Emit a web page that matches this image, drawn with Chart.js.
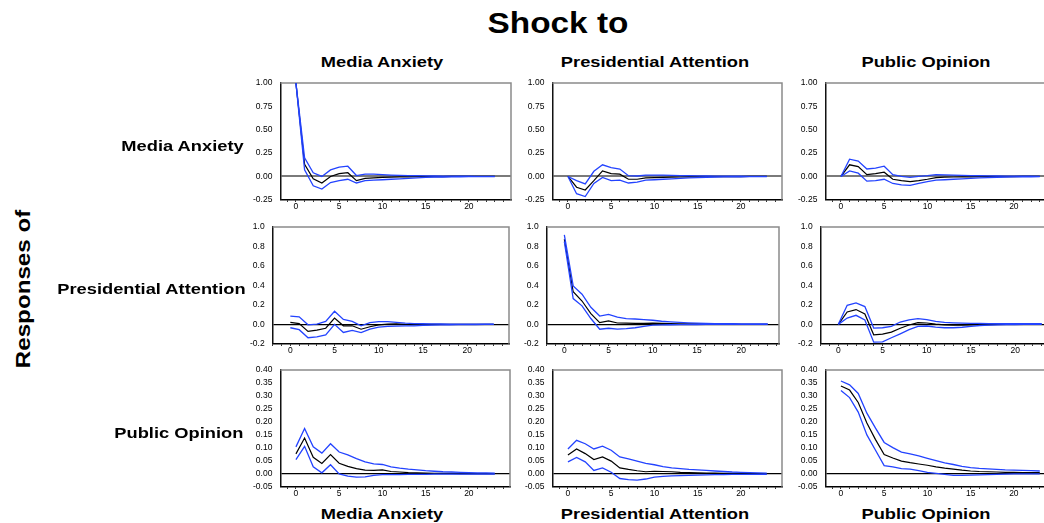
<!DOCTYPE html>
<html>
<head>
<meta charset="utf-8">
<script src="https://cdn.jsdelivr.net/npm/chart.js@4.4.1/dist/chart.umd.min.js"></script>
<style>
  html, body { margin: 0; padding: 0; background: #fff; overflow: hidden; }
  #wrap { position: relative; width: 1044px; height: 523px; overflow: hidden;
          font-family: "Liberation Sans", Arial, sans-serif; color: #000; }
  .lbl { position: absolute; font-weight: bold; white-space: nowrap; line-height: 1; }
  canvas { position: absolute; }
</style>
</head>
<body>
<div id="wrap"></div>
<script>
// ---- data ----
const periods = [0, 1, 2, 3, 4, 5, 6, 7, 8, 9, 10, 11, 12, 13, 14, 15, 16, 17, 18, 19, 20, 21, 22, 23]
const varNames = ['Media Anxiety', 'Presidential Attention', 'Public Opinion']

// y axis settings per row (response variable)
const yMins = [-0.25, -0.2, -0.05]
const yMaxs = [1.0, 1.0, 0.40]
const ySteps = [0.25, 0.2, 0.05]
const yDecimals = [2, 1, 2]

// naming: <response>_<shock>_<mid|hi|lo>
const ma_ma_mid = [1.0, 0.13, -0.025, -0.07, 0.0, 0.03, 0.04, -0.045, -0.02, -0.015, -0.01, -0.007, -0.005, -0.004, -0.003, -0.002, -0.001, -0.001, 0, 0, 0, 0, 0, 0]
const ma_ma_hi = [1.0, 0.2, 0.04, 0.0, 0.07, 0.1, 0.11, 0.01, 0.025, 0.025, 0.02, 0.015, 0.012, 0.01, 0.008, 0.006, 0.005, 0.004, 0.003, 0.002, 0.002, 0.001, 0.001, 0.001]
const ma_ma_lo = [1.0, 0.07, -0.1, -0.135, -0.065, -0.045, -0.03, -0.07, -0.045, -0.04, -0.035, -0.03, -0.025, -0.02, -0.015, -0.01, -0.008, -0.006, -0.004, -0.003, -0.002, -0.001, -0.001, -0.001]

const ma_pa_mid = [0, -0.115, -0.145, -0.045, 0.06, 0.03, 0.025, -0.03, -0.03, -0.015, -0.012, -0.01, -0.008, -0.006, -0.005, -0.004, -0.003, -0.002, -0.002, -0.001, -0.001, 0, 0, 0]
const ma_pa_hi = [0, -0.045, -0.08, 0.055, 0.125, 0.095, 0.08, 0.008, 0.005, 0.015, 0.015, 0.015, 0.012, 0.01, 0.008, 0.006, 0.005, 0.004, 0.003, 0.002, 0.002, 0.001, 0.001, 0.001]
const ma_pa_lo = [0, -0.185, -0.215, -0.075, -0.01, -0.045, -0.04, -0.07, -0.06, -0.04, -0.035, -0.03, -0.025, -0.02, -0.016, -0.012, -0.009, -0.007, -0.005, -0.004, -0.003, -0.002, -0.001, -0.001]

const ma_po_mid = [0, 0.125, 0.105, 0.02, 0.03, 0.045, -0.03, -0.045, -0.055, -0.045, -0.03, -0.012, -0.008, -0.006, -0.005, -0.004, -0.003, -0.002, -0.002, -0.001, -0.001, 0, 0, 0]
const ma_po_hi = [0, 0.185, 0.165, 0.08, 0.09, 0.11, 0.02, 0.0, -0.01, 0.0, 0.008, 0.02, 0.018, 0.015, 0.012, 0.01, 0.008, 0.006, 0.005, 0.004, 0.003, 0.002, 0.002, 0.001]
const ma_po_lo = [0, 0.06, 0.035, -0.05, -0.045, -0.03, -0.075, -0.09, -0.095, -0.075, -0.055, -0.04, -0.035, -0.03, -0.025, -0.02, -0.015, -0.012, -0.009, -0.007, -0.005, -0.004, -0.003, -0.002]

const pa_ma_mid = [0.02, 0.007, -0.072, -0.06, -0.04, 0.065, -0.015, -0.015, -0.05, -0.025, -0.005, 0.003, 0.005, 0.0, -0.002, -0.002, -0.001, -0.001, 0, 0, 0, 0, 0, 0]
const pa_ma_hi = [0.085, 0.077, -0.005, 0.003, 0.03, 0.135, 0.05, 0.03, -0.015, 0.017, 0.027, 0.028, 0.02, 0.012, 0.008, 0.006, 0.005, 0.004, 0.003, 0.002, 0.002, 0.001, 0.001, 0.001]
const pa_ma_lo = [-0.035, -0.055, -0.138, -0.128, -0.108, 0.0, -0.083, -0.062, -0.085, -0.05, -0.028, -0.02, -0.018, -0.015, -0.015, -0.01, -0.008, -0.006, -0.004, -0.003, -0.002, -0.002, -0.001, -0.001]

const pa_pa_mid = [0.875, 0.335, 0.24, 0.11, 0.018, 0.035, 0.014, 0.012, 0.01, 0.01, 0.012, 0.01, 0.008, 0.006, 0.005, 0.004, 0.003, 0.003, 0.002, 0.002, 0.001, 0.001, 0.001, 0.001]
const pa_pa_hi = [0.92, 0.395, 0.31, 0.175, 0.085, 0.103, 0.075, 0.058, 0.055, 0.048, 0.042, 0.032, 0.025, 0.02, 0.016, 0.012, 0.01, 0.008, 0.007, 0.006, 0.005, 0.005, 0.005, 0.005]
const pa_pa_lo = [0.85, 0.265, 0.19, 0.06, -0.05, -0.04, -0.05, -0.045, -0.035, -0.02, -0.007, -0.005, -0.004, -0.003, -0.002, -0.002, -0.001, -0.001, 0, 0, 0, 0, 0, 0]

const pa_po_mid = [0, 0.128, 0.152, 0.107, -0.107, -0.1, -0.08, -0.04, -0.007, 0.018, 0.014, 0.003, -0.005, -0.008, -0.008, -0.005, -0.003, -0.002, -0.001, -0.001, 0, 0, 0, 0]
const pa_po_hi = [0, 0.196, 0.22, 0.183, -0.038, -0.035, -0.02, 0.024, 0.045, 0.058, 0.048, 0.03, 0.02, 0.015, 0.012, 0.01, 0.009, 0.008, 0.008, 0.008, 0.008, 0.008, 0.008, 0.008]
const pa_po_lo = [0, 0.065, 0.093, 0.045, -0.183, -0.18, -0.138, -0.097, -0.055, -0.02, -0.017, -0.028, -0.035, -0.035, -0.03, -0.02, -0.012, -0.008, -0.005, -0.003, -0.002, -0.001, -0.001, 0]

const po_ma_mid = [0.077, 0.138, 0.064, 0.04, 0.074, 0.041, 0.029, 0.02, 0.014, 0.013, 0.015, 0.009, 0.007, 0.005, 0.004, 0.003, 0.002, 0.002, 0.002, 0.001, 0.001, 0.001, 0.001, 0.001]
const po_ma_hi = [0.104, 0.175, 0.104, 0.08, 0.116, 0.084, 0.073, 0.059, 0.046, 0.038, 0.036, 0.027, 0.022, 0.018, 0.015, 0.012, 0.01, 0.008, 0.007, 0.006, 0.005, 0.004, 0.004, 0.003]
const po_ma_lo = [0.055, 0.106, 0.027, 0.004, 0.035, 0.0, -0.009, -0.013, -0.012, -0.006, -0.003, -0.003, -0.003, -0.002, -0.002, -0.002, -0.001, -0.001, -0.001, -0.001, -0.001, -0.001, -0.001, -0.001]

const po_pa_mid = [0.073, 0.096, 0.078, 0.055, 0.065, 0.049, 0.023, 0.017, 0.012, 0.008, 0.01, 0.009, 0.008, 0.006, 0.005, 0.004, 0.003, 0.003, 0.002, 0.002, 0.002, 0.001, 0.001, 0.001]
const po_pa_hi = [0.096, 0.129, 0.116, 0.096, 0.107, 0.091, 0.065, 0.058, 0.049, 0.04, 0.035, 0.028, 0.023, 0.02, 0.017, 0.015, 0.013, 0.011, 0.009, 0.007, 0.006, 0.005, 0.004, 0.003]
const po_pa_lo = [0.046, 0.063, 0.046, 0.013, 0.023, 0.006, -0.018, -0.022, -0.024, -0.02, -0.013, -0.01, -0.008, -0.007, -0.006, -0.005, -0.004, -0.003, -0.003, -0.002, -0.002, -0.002, -0.002, -0.002]

const po_po_mid = [0.339, 0.323, 0.275, 0.196, 0.132, 0.074, 0.061, 0.049, 0.043, 0.038, 0.033, 0.027, 0.022, 0.018, 0.014, 0.011, 0.009, 0.008, 0.007, 0.006, 0.006, 0.005, 0.005, 0.005]
const po_po_hi = [0.358, 0.343, 0.31, 0.234, 0.176, 0.121, 0.101, 0.084, 0.077, 0.069, 0.06, 0.051, 0.042, 0.036, 0.029, 0.024, 0.021, 0.019, 0.017, 0.015, 0.014, 0.013, 0.012, 0.011]
const po_po_lo = [0.321, 0.294, 0.238, 0.15, 0.091, 0.032, 0.027, 0.02, 0.018, 0.012, 0.006, 0.002, -0.002, -0.006, -0.006, -0.005, -0.004, -0.003, -0.002, -0.001, 0, 0, 0, 0]

const grid = [
  [[ma_ma_mid, ma_ma_hi, ma_ma_lo], [ma_pa_mid, ma_pa_hi, ma_pa_lo], [ma_po_mid, ma_po_hi, ma_po_lo]],
  [[pa_ma_mid, pa_ma_hi, pa_ma_lo], [pa_pa_mid, pa_pa_hi, pa_pa_lo], [pa_po_mid, pa_po_hi, pa_po_lo]],
  [[po_ma_mid, po_ma_hi, po_ma_lo], [po_pa_mid, po_pa_hi, po_pa_lo], [po_po_mid, po_po_hi, po_po_lo]],
]

// ---- layout (plot boxes in page pixels) ----
const rowTops = [83, 227, 370]
const rowHeights = [117, 117, 117]
const colLefts = [[280, 552, 825], [273, 547, 821], [280, 552, 825]]
const colWidths = [[231, 230, 232], [236, 232, 236], [230, 230, 232]]
const xMins = [-1.8, -2.0, -1.8]
const pxPerPeriod = [8.66, 8.83, 8.66]
const zeroColors = ['#7a7a7a', '#000', '#000']
const zeroWidths = [2, 1.2, 1.2]

const tickFont = { family: '"Liberation Sans", Arial, sans-serif', size: 8.5 }

const wrap = document.getElementById('wrap')

function addLabel(text, size, x, baseline, align, stretch) {
  const el = document.createElement('div')
  el.className = 'lbl'
  el.textContent = text
  el.style.fontSize = size + 'px'
  el.style.top = (baseline - 0.8465 * size) + 'px'
  if (align === 'center') {
    el.style.left = x + 'px'
    el.style.transform = `translateX(-50%) scaleX(${stretch})`
  } else {
    el.style.right = (1044 - x) + 'px'
    el.style.transformOrigin = 'right center'
    el.style.transform = `scaleX(${stretch})`
  }
  wrap.appendChild(el)
}

// Top / right frame lines in gray
const frameLines = {
  id: 'frameLines',
  beforeDatasetsDraw(chart) {
    const { ctx, chartArea: { left, right, top, bottom } } = chart
    ctx.save()
    ctx.strokeStyle = '#8a8a8a'
    ctx.lineWidth = 1.5
    ctx.beginPath()
    ctx.moveTo(left, top)
    ctx.lineTo(right, top)
    ctx.lineTo(right, bottom)
    ctx.stroke()
    ctx.restore()
  },
}

function toPoints(vals) {
  return periods.map((p, i) => ({ x: p, y: vals[i] }))
}

function fmtTick(v, dec) {
  const s = v.toFixed(dec)
  return Number(s) === 0 ? (0).toFixed(dec) : s
}

function panelConfig(r, c) {
  const [mid, hi, lo] = grid[r][c]
  const xMin = xMins[r]
  const xMax = xMin + colWidths[r][c] / pxPerPeriod[r]
  const blue = '#2343ff'
  return {
    type: 'line',
    data: {
      datasets: [
        { label: 'upper', data: toPoints(hi), borderColor: blue, borderWidth: 1.3, pointRadius: 0, tension: 0, order: 0 },
        { label: 'lower', data: toPoints(lo), borderColor: blue, borderWidth: 1.3, pointRadius: 0, tension: 0, order: 0 },
        { label: 'response', data: toPoints(mid), borderColor: '#000', borderWidth: 1.2, pointRadius: 0, tension: 0, order: 1 },
      ],
    },
    options: {
      responsive: false,
      maintainAspectRatio: false,
      animation: false,
      devicePixelRatio: 1,
      layout: { padding: 2 },
      plugins: { legend: { display: false }, tooltip: { enabled: false } },
      scales: {
        x: {
          type: 'linear',
          min: xMin,
          max: xMax,
          afterBuildTicks: (s) => {
            const ticks = []
            for (let v = Math.ceil(xMin); v <= Math.floor(xMax); v++) ticks.push({ value: v })
            s.ticks = ticks
          },
          ticks: {
            autoSkip: false,
            maxRotation: 0,
            padding: 0,
            color: '#000',
            font: tickFont,
            callback: (v) => (v >= 0 && v % 5 === 0 ? String(v) : ''),
          },
          grid: { drawOnChartArea: false, drawTicks: true, tickLength: 2, tickColor: '#000' },
          border: { color: '#000', width: 1.5 },
        },
        y: {
          min: yMins[r],
          max: yMaxs[r],
          ticks: {
            stepSize: ySteps[r],
            autoSkip: false,
            padding: 8,
            color: '#000',
            font: tickFont,
            callback: (v) => fmtTick(v, yDecimals[r]),
          },
          grid: {
            drawTicks: false,
            color: (ctx) => (Math.abs(ctx.tick.value) < 1e-9 ? zeroColors[r] : 'rgba(0,0,0,0)'),
            lineWidth: (ctx) => (Math.abs(ctx.tick.value) < 1e-9 ? zeroWidths[r] : 0),
          },
          border: { color: '#111', width: 1.5 },
        },
      },
    },
    plugins: [frameLines],
  }
}

function makePanel(r, c) {
  const w = colWidths[r][c]
  const h = rowHeights[r]
  const canvas = document.createElement('canvas')
  wrap.appendChild(canvas)
  canvas.width = w + 60
  canvas.height = h + 40

  // first pass: measure how much room the axes take, then size the canvas so
  // the plot area lands exactly on the reference box
  let chart = new Chart(canvas, panelConfig(r, c))
  let ca = chart.chartArea
  const newW = canvas.width + (w - (ca.right - ca.left))
  const newH = canvas.height + (h - (ca.bottom - ca.top))
  chart.destroy()
  canvas.width = Math.round(newW)
  canvas.height = Math.round(newH)
  canvas.style.width = canvas.width + 'px'
  canvas.style.height = canvas.height + 'px'
  chart = new Chart(canvas, panelConfig(r, c))
  ca = chart.chartArea
  canvas.style.left = (colLefts[r][c] - ca.left) + 'px'
  canvas.style.top = (rowTops[r] - ca.top) + 'px'
}

for (let r = 0; r < 3; r++) {
  for (let c = 0; c < 3; c++) makePanel(r, c)
}

// ---- titles ----
const colCenters = [382, 655, 926]
const rowLabelRight = [244, 246, 243]
const rowLabelBaselines = [151, 294, 438]

addLabel('Shock to', 29, 557.5, 34, 'center', 1.15)
varNames.forEach((name, i) => {
  addLabel(name, 15.5, colCenters[i], 67, 'center', 1.18)
  addLabel(name, 15.5, colCenters[i], 519, 'center', 1.18)
  addLabel(name, 15.5, rowLabelRight[i], rowLabelBaselines[i], 'right', 1.18)
})

const resp = document.createElement('div')
resp.className = 'lbl'
resp.textContent = 'Responses of'
resp.style.fontSize = '21px'
resp.style.left = '22px'
resp.style.top = '289px'
resp.style.transform = 'translate(-50%, -50%) rotate(-90deg) scaleX(1.15)'
wrap.appendChild(resp)
</script>
</body>
</html>
